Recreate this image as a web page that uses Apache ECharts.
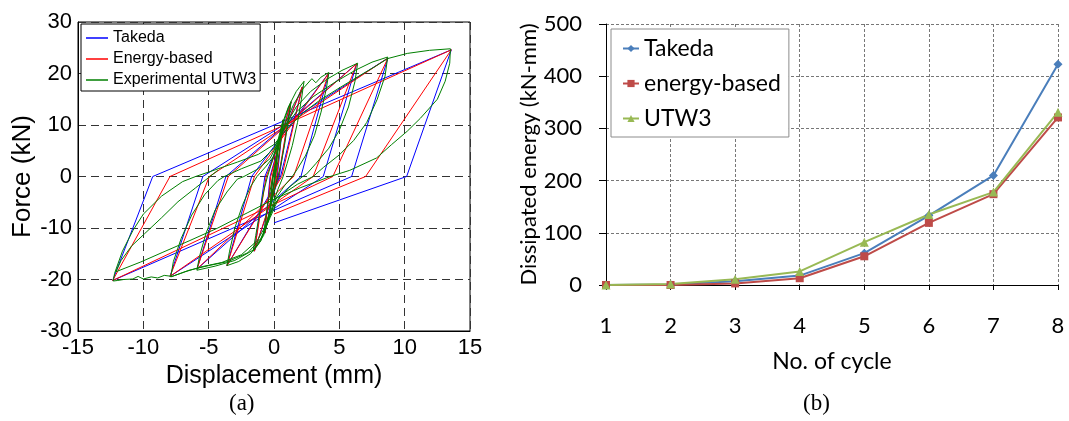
<!DOCTYPE html>
<html>
<head>
<meta charset="utf-8">
<script src="https://cdn.jsdelivr.net/npm/echarts@6/dist/echarts.min.js"></script>
<style>
  html, body { margin: 0; padding: 0; background: #fff; }
  #chart { width: 1069px; height: 421px; }
</style>
</head>
<body>
<div id="chart"></div>
<script>
// (a) hysteresis loops, [displacement mm, force kN]
var takedaLoop = [
  [0, 0], [0.3, 6], [0.1, 0], [-0.3, -6], [-0.1, 0], [0.7, 11], [0.25, 0], [-0.7, -11],
  [-0.3, 0], [1.3, 14.5], [0.4, 0], [-1.5, -14.5], [-0.7, 0], [2.17, 17.4], [0.5, 0],
  [-3.6, -17.3], [-1.71, 0], [4.2, 20.1], [2.06, 0], [-5.9, -18.0], [-3.68, 0],
  [6.33, 21.9], [3.77, 0], [-7.96, -19.4], [-5.45, 0], [8.72, 23.0], [5.94, 0],
  [-12.35, -20.2], [-9.28, 0], [13.57, 24.6], [10.15, 0], [0, -9.0]
];
var energyLoop = [
  [0, 0], [0.3, 6], [0.12, 0], [-0.3, -6], [-0.12, 0], [0.7, 11], [0.2, 0], [-0.7, -11],
  [-0.25, 0], [1.3, 14.5], [0.35, 0], [-1.5, -14.5], [-0.6, 0], [2.17, 17.4], [0.6, 0],
  [-3.6, -17.3], [-1.5, 0], [4.2, 20.1], [1.5, 0], [-5.9, -18.0], [-3.5, 0],
  [6.33, 21.9], [3.0, 0], [-7.96, -19.4], [-4.95, 0], [8.72, 23.0], [4.5, 0],
  [-12.35, -20.2], [-7.96, 0], [13.57, 24.6], [7.01, 0], [0, -7.3]
];
var experimentLoop = [
  [0, 0], [0.15, 3], [0.3, 6],
  [0.2, 3], [0.05, 0], [-0.1, -3], [-0.3, -6],
  [-0.2, -3], [-0.05, 0], [0.2, 4], [0.45, 8], [0.7, 11],
  [0.55, 7.5], [0.3, 3], [0.1, 0], [-0.1, -3], [-0.35, -7], [-0.6, -9.5], [-0.8, -11],
  [-0.6, -7.5], [-0.35, -3.5], [-0.1, 0], [0.2, 3.5], [0.5, 7.5], [0.8, 11], [1.1, 13.3], [1.3, 14.5],
  [1.1, 11], [0.8, 6], [0.5, 2], [0.3, 0], [0, -3], [-0.4, -7.5], [-0.8, -11], [-1.2, -13.2], [-1.6, -14.5],
  [-1.4, -11.5], [-1.1, -7], [-0.8, -3], [-0.5, 0], [-0.2, 2.5], [0.2, 6], [0.6, 10], [1.1, 13.5], [1.7, 16.5], [2.3, 18.5],
  [2.1, 15], [1.8, 10.5], [1.4, 6], [1.0, 2.5], [0.7, 0], [0.3, -2.5], [-0.1, -5.5], [-0.5, -9], [-1, -12.5], [-1.8, -15], [-2.7, -16.5], [-3.6, -17.3],
  [-3.4, -14.5], [-3, -10], [-2.4, -5.5], [-1.8, -2], [-1.3, 0], [-0.6, 2], [0, 4], [0.4, 7], [0.9, 10.5], [1.5, 14], [2.2, 17], [2.9, 19], [3.2, 18.2], [3.6, 19.3], [4.2, 20.2],
  [4.0, 17], [3.6, 12.5], [3.1, 8], [2.4, 4], [1.8, 1.5], [1.4, 0], [0.8, -1.8], [0.2, -4], [-0.3, -7.5], [-0.8, -11.5], [-1.6, -14.3], [-3, -16.3], [-4.5, -17.4], [-5.9, -18.2],
  [-5.7, -15.5], [-5.2, -11], [-4.5, -6.5], [-3.6, -3], [-2.8, -0.5], [-2.3, 0], [-1.2, 1.5], [-0.3, 3.5], [0.3, 6.5], [0.9, 10], [1.7, 13.5], [2.8, 16.5], [4, 18.8], [5.2, 20.6], [6.4, 22],
  [6.2, 18.5], [5.7, 13.5], [5, 9], [4.2, 5.5], [3.2, 2.5], [2.5, 0.5], [2.2, 0], [1.2, -2], [0.3, -4.5], [-0.3, -8], [-1, -12], [-2, -14.8], [-3.5, -16.5], [-5, -17.3], [-6.5, -18.2], [-7.9, -19.5],
  [-7.7, -16.5], [-7.1, -12], [-6.3, -7.5], [-5.3, -3.5], [-4.3, -0.8], [-3.8, 0], [-2.5, 1.5], [-1, 3], [0, 5.5], [0.7, 9], [1.7, 12.5], [3, 15.5], [4.6, 18.2], [6.2, 20.6], [7.5, 22.2], [8.7, 23.2],
  [8.5, 19.5], [7.9, 15], [7.1, 10.5], [6.1, 7], [5, 4.2], [3.8, 1.8], [3.0, 0], [1.8, -1.5], [0.6, -3.5], [0, -5.5], [-0.5, -9], [-1.3, -12.5], [-2.5, -15.2], [-4, -16.7], [-5.5, -17.5], [-6.8, -18.5], [-7.8, -19.4],
  [-8.4, -19.2], [-8.9, -19.7], [-9.4, -19.5], [-10, -19.9], [-10.4, -19.4], [-10.8, -19.9], [-11.5, -20], [-12, -20.2], [-12.3, -20.3],
  [-12.2, -18.8], [-11.6, -14.5], [-10.8, -10.5], [-10, -7.3], [-8.6, -3.8], [-7, -1], [-6, 0], [-4.5, 1.3], [-2.8, 2.8], [-1.2, 4.3], [0, 6.2], [1, 9.3], [2.2, 12.3], [3.5, 14.8], [5, 17.2], [6.5, 19.5], [7.7, 21.3], [8.7, 22.9], [10.2, 23.9], [11.9, 24.5], [13.5, 24.8],
  [13.45, 22], [13.1, 18.5], [12.5, 15], [11.2, 11.3], [10.2, 8.8], [9, 6.2], [7.85, 3.6], [5.8, 1.2], [4.3, 0], [2, -2.2], [0, -4.4], [-2, -7], [-4.3, -10], [-6.5, -12.5], [-8.5, -14.7], [-10.2, -16.6], [-11.4, -17.8], [-12.1, -18.5],
  [-11.7, -16.3], [-10.9, -13.5], [-9.9, -11.1], [-8.6, -8], [-7.35, -4.9], [-6, -2.2], [-4.3, 1.2]
];

// (b) dissipated energy per cycle (kN-mm)
var cycles = [1, 2, 3, 4, 5, 6, 7, 8];
var takedaEnergy = [0, 1, 7, 18, 61, 133, 210, 423];
var energyBasedEnergy = [0, 0, 3, 13, 55, 119, 174, 321];
var utw3Energy = [0, 2, 11, 26, 82, 135, 178, 331];

function pairs(xs, ys) {
  return xs.map(function(x, i) { return [x, ys[i]] })
}

var sansA = 'Liberation Sans'
var sansB = 'Lato'

var chart = echarts.init(document.getElementById('chart'))
var option = {
  animation: false,
  backgroundColor: '#fff',
  grid: [
    { left: 78, top: 22, width: 392, height: 309, show: true, borderColor: '#000', borderWidth: 1, backgroundColor: 'transparent', outerBoundsMode: 'none' },
    { left: 606, top: 24, width: 452, height: 261, show: false, outerBoundsMode: 'none' }
  ],
  legend: [
    {
      orient: 'vertical', left: 81, top: 24,
      padding: [6, 4, 3, 5], itemGap: 5, itemWidth: 22, itemHeight: 1.5, icon: 'rect',
      backgroundColor: '#fff', borderColor: '#000', borderWidth: 1, borderRadius: 0,
      textStyle: { fontFamily: sansA, fontSize: 16, color: '#000' },
      data: ['Takeda', 'Energy-based', 'Experimental UTW3']
    },
    {
      orient: 'vertical', left: 611, top: 29,
      padding: [8, 8, 7, 11], itemGap: 12, itemWidth: 16, itemHeight: 9,
      backgroundColor: '#fff', borderColor: '#8c8c8c', borderWidth: 1, borderRadius: 0,
      textStyle: { fontFamily: sansB, fontSize: 23, color: '#000' },
      data: ['Takeda ', 'energy-based', 'UTW3']
    }
  ],
  xAxis: [
    {
      gridIndex: 0, type: 'value', min: -15, max: 15, interval: 5,
      name: 'Displacement (mm)', nameLocation: 'middle', nameGap: 26,
      nameTextStyle: { fontFamily: sansA, fontSize: 25, color: '#000' },
      axisLine: { show: true, onZero: false, lineStyle: { color: '#000', width: 1 } },
      axisTick: { show: false },
      axisLabel: { margin: 6, fontFamily: sansA, fontSize: 22, color: '#000' },
      splitLine: { show: true, lineStyle: { color: '#333', width: 1, type: [8, 5] } }
    },
    {
      gridIndex: 1, type: 'value', min: 1, max: 8, interval: 1,
      name: 'No. of cycle', nameLocation: 'middle', nameGap: 65,
      nameTextStyle: { fontFamily: sansB, fontSize: 23, color: '#000' },
      axisLine: { show: true, onZero: false, lineStyle: { color: '#000', width: 1 } },
      axisTick: { show: true, length: 5, lineStyle: { color: '#000' } },
      axisLabel: { margin: 30, fontFamily: sansB, fontSize: 22, color: '#000' },
      splitLine: { show: true, lineStyle: { color: '#777', width: 1, type: [3, 2] } }
    }
  ],
  yAxis: [
    {
      gridIndex: 0, type: 'value', min: -30, max: 30, interval: 10,
      name: 'Force (kN)', nameLocation: 'middle', nameGap: 41,
      nameTextStyle: { fontFamily: sansA, fontSize: 26, color: '#000' },
      axisLine: { show: true, onZero: false, lineStyle: { color: '#000', width: 1 } },
      axisTick: { show: false },
      axisLabel: { margin: 6, fontFamily: sansA, fontSize: 22, color: '#000' },
      splitLine: { show: true, lineStyle: { color: '#333', width: 1, type: [8, 5] } }
    },
    {
      gridIndex: 1, type: 'value', min: 0, max: 500, interval: 100,
      name: 'Dissipated energy (kN-mm)', nameLocation: 'middle', nameGap: 61,
      nameTextStyle: { fontFamily: sansB, fontSize: 22, color: '#000' },
      axisLine: { show: true, onZero: false, lineStyle: { color: '#000', width: 1 } },
      axisTick: { show: true, length: 7, lineStyle: { color: '#000' } },
      axisLabel: { margin: 24, fontFamily: sansB, fontSize: 22, color: '#000' },
      splitLine: { show: true, lineStyle: { color: '#777', width: 1, type: [3, 2] } }
    }
  ],
  graphic: [
    { type: 'text', left: 229, top: 392, style: { text: '(a)', fontFamily: 'Liberation Serif', fontSize: 23, fill: '#000' } },
    { type: 'text', left: 803, top: 392, style: { text: '(b)', fontFamily: 'Liberation Serif', fontSize: 23, fill: '#000' } }
  ],
  series: [
    { name: 'Takeda', type: 'line', xAxisIndex: 0, yAxisIndex: 0, data: takedaLoop, symbol: 'none', color: '#0000ff', lineStyle: { width: 1, color: '#0000ff' } },
    { name: 'Energy-based', type: 'line', xAxisIndex: 0, yAxisIndex: 0, data: energyLoop, symbol: 'none', color: '#ff0000', lineStyle: { width: 1, color: '#ff0000' } },
    { name: 'Experimental UTW3', type: 'line', xAxisIndex: 0, yAxisIndex: 0, data: experimentLoop, symbol: 'none', color: '#007f00', lineStyle: { width: 1, color: '#007f00' } },

    { name: 'Takeda ', type: 'line', xAxisIndex: 1, yAxisIndex: 1, data: pairs(cycles, takedaEnergy), symbol: 'diamond', symbolSize: 9, color: '#4a7ebb', lineStyle: { width: 2, color: '#4a7ebb' }, itemStyle: { color: '#4a7ebb' } },
    { name: 'energy-based', type: 'line', xAxisIndex: 1, yAxisIndex: 1, data: pairs(cycles, energyBasedEnergy), symbol: 'rect', symbolSize: 8, color: '#be4b48', lineStyle: { width: 2, color: '#be4b48' }, itemStyle: { color: '#be4b48' } },
    { name: 'UTW3', type: 'line', xAxisIndex: 1, yAxisIndex: 1, data: pairs(cycles, utw3Energy), symbol: 'triangle', symbolSize: 9, color: '#98b954', lineStyle: { width: 2, color: '#98b954' }, itemStyle: { color: '#98b954' } }
  ]
}
chart.setOption(option)
</script>
</body>
</html>
